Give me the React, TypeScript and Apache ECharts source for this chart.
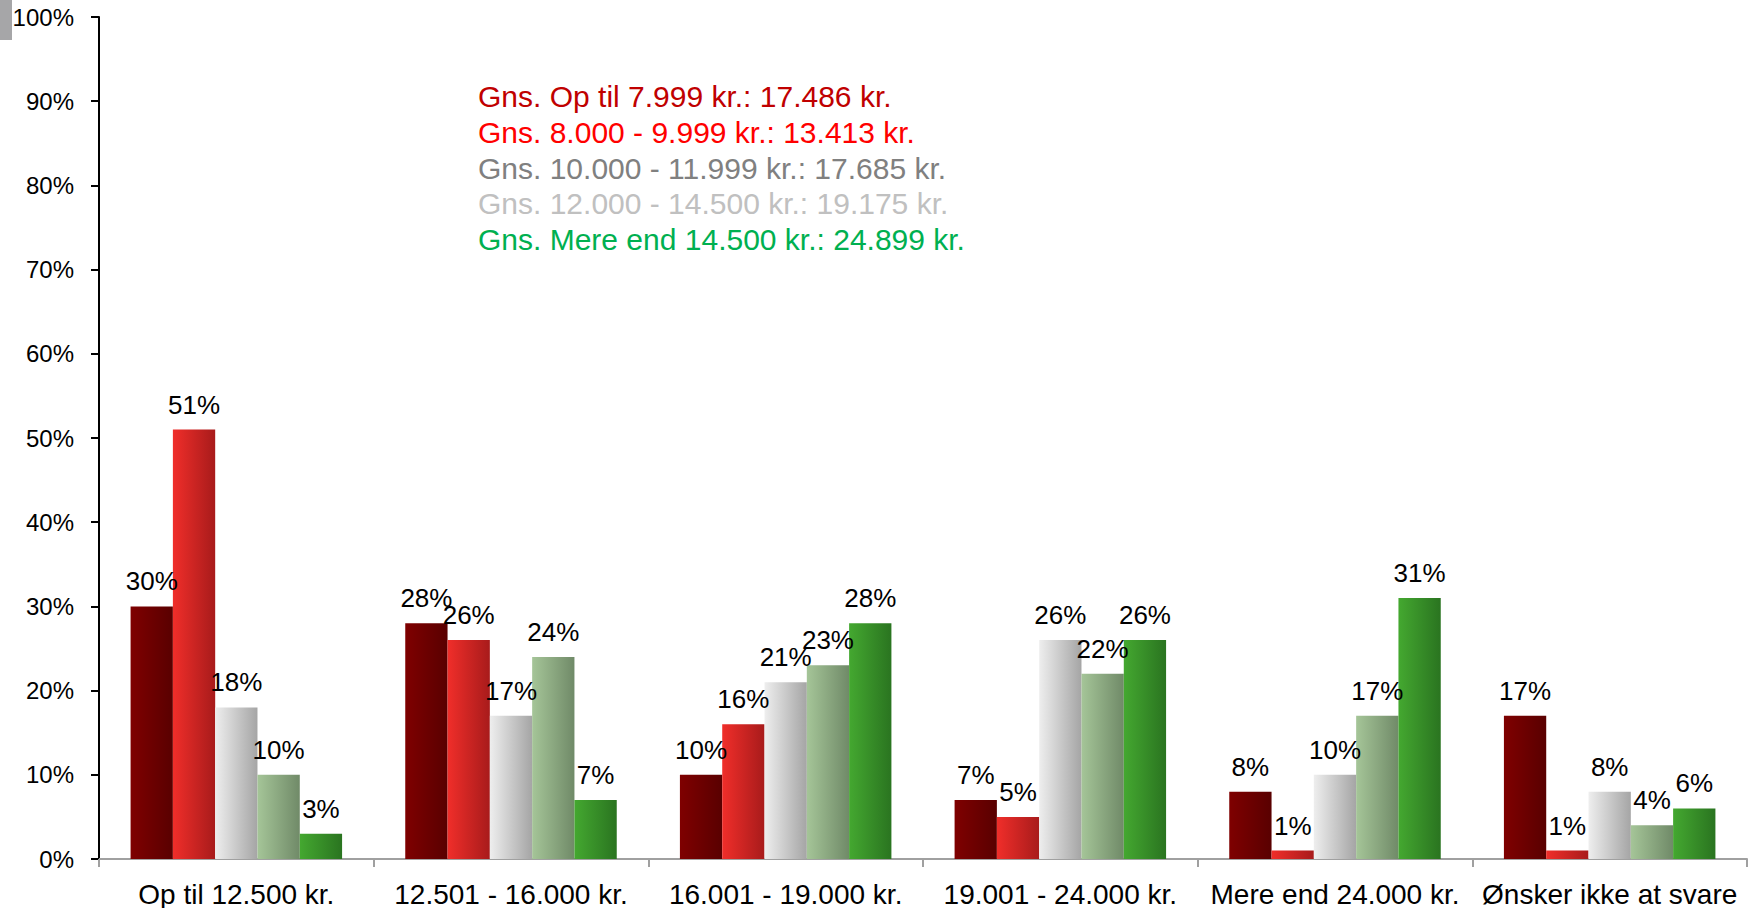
import React, { useEffect, useRef } from "react";
import * as echarts from "echarts";

const categories = [
  "Op til 12.500 kr.",
  "12.501 - 16.000 kr.",
  "16.001 - 19.000 kr.",
  "19.001 - 24.000 kr.",
  "Mere end 24.000 kr.",
  "Ønsker ikke at svare",
];

const seriesNames = [
  "Op til 7.999 kr.",
  "8.000 - 9.999 kr.",
  "10.000 - 11.999 kr.",
  "12.000 - 14.500 kr.",
  "Mere end 14.500 kr.",
];

const opTil7999 = [30, 28, 10, 7, 8, 17];
const fra8000 = [51, 26, 16, 5, 1, 1];
const fra10000 = [18, 17, 21, 26, 10, 8];
const fra12000 = [10, 24, 23, 22, 17, 4];
const mereEnd14500 = [3, 7, 28, 26, 31, 6];

const averageLines = [
  "Gns. Op til 7.999 kr.: 17.486 kr.",
  "Gns. 8.000 - 9.999 kr.: 13.413 kr.",
  "Gns. 10.000 - 11.999 kr.: 17.685 kr.",
  "Gns. 12.000 - 14.500 kr.: 19.175 kr.",
  "Gns. Mere end 14.500 kr.: 24.899 kr.",
];

const yTicks = [0, 10, 20, 30, 40, 50, 60, 70, 80, 90, 100];

const gradients: [string, string][] = [
  ["#7f0000", "#590000"],
  ["#f02e2a", "#a81b1b"],
  ["#eeeeee", "#a5a5a5"],
  ["#a5c598", "#708a68"],
  ["#44a830", "#2a7420"],
];
const textColors = ["#c00000", "#ff0000", "#808080", "#c0c0c0", "#00b050"];

const FONT = "'Liberation Sans', Arial, Helvetica, sans-serif";

export default function App() {
  const ref = useRef<HTMLDivElement>(null);
  useEffect(() => {
    if (!ref.current) return;
    const chart = echarts.init(ref.current, null, { renderer: "svg" });
    const data = [opTil7999, fra8000, fra10000, fra12000, mereEnd14500];
    chart.setOption({
      animation: false,
      textStyle: { fontFamily: FONT },
      grid: { left: 99, right: 7, top: 17, bottom: 48, containLabel: false },
      xAxis: {
        type: "category",
        data: categories,
        axisLine: { lineStyle: { color: "#a0a0a0", width: 2 } },
        axisTick: { show: true, length: 8, lineStyle: { color: "#a0a0a0", width: 2 } },
        axisLabel: { color: "#000", fontSize: 28, fontFamily: FONT, margin: 21, interval: 0 },
      },
      yAxis: {
        type: "value",
        min: yTicks[0],
        max: yTicks[yTicks.length - 1],
        interval: 10,
        axisLine: { show: true, lineStyle: { color: "#000", width: 2 } },
        axisTick: { show: true, length: 8, lineStyle: { color: "#000", width: 2 } },
        splitLine: { show: false },
        axisLabel: { color: "#000", fontSize: 24, fontFamily: FONT, margin: 25, formatter: "{value}%" },
      },
      series: seriesNames.map((name, i) => ({
        name,
        type: "bar",
        data: data[i],
        barGap: "0%",
        barCategoryGap: "23%",
        itemStyle: {
          color: new echarts.graphic.LinearGradient(0, 0, 1, 0, [
            { offset: 0, color: gradients[i][0] },
            { offset: 1, color: gradients[i][1] },
          ]),
        },
        label: {
          show: true,
          position: "top",
          distance: 12,
          formatter: "{c}%",
          color: "#000",
          fontSize: 26,
          fontFamily: FONT,
        },
      })),
      graphic: [
        { type: "rect", shape: { x: 0, y: 0, width: 12, height: 40 }, style: { fill: "#a6a6a8" } },
        ...averageLines.map((t, i) => ({
          type: "text",
          left: 478,
          top: 81.5 + i * 35.8,
          style: { text: t, fill: textColors[i], fontSize: 30, fontFamily: FONT },
        })),
      ],
    });
    return () => chart.dispose();
  }, []);
  return <div ref={ref} style={{ width: 1754, height: 908, position: "absolute", left: 0, top: 0 }} />;
}
